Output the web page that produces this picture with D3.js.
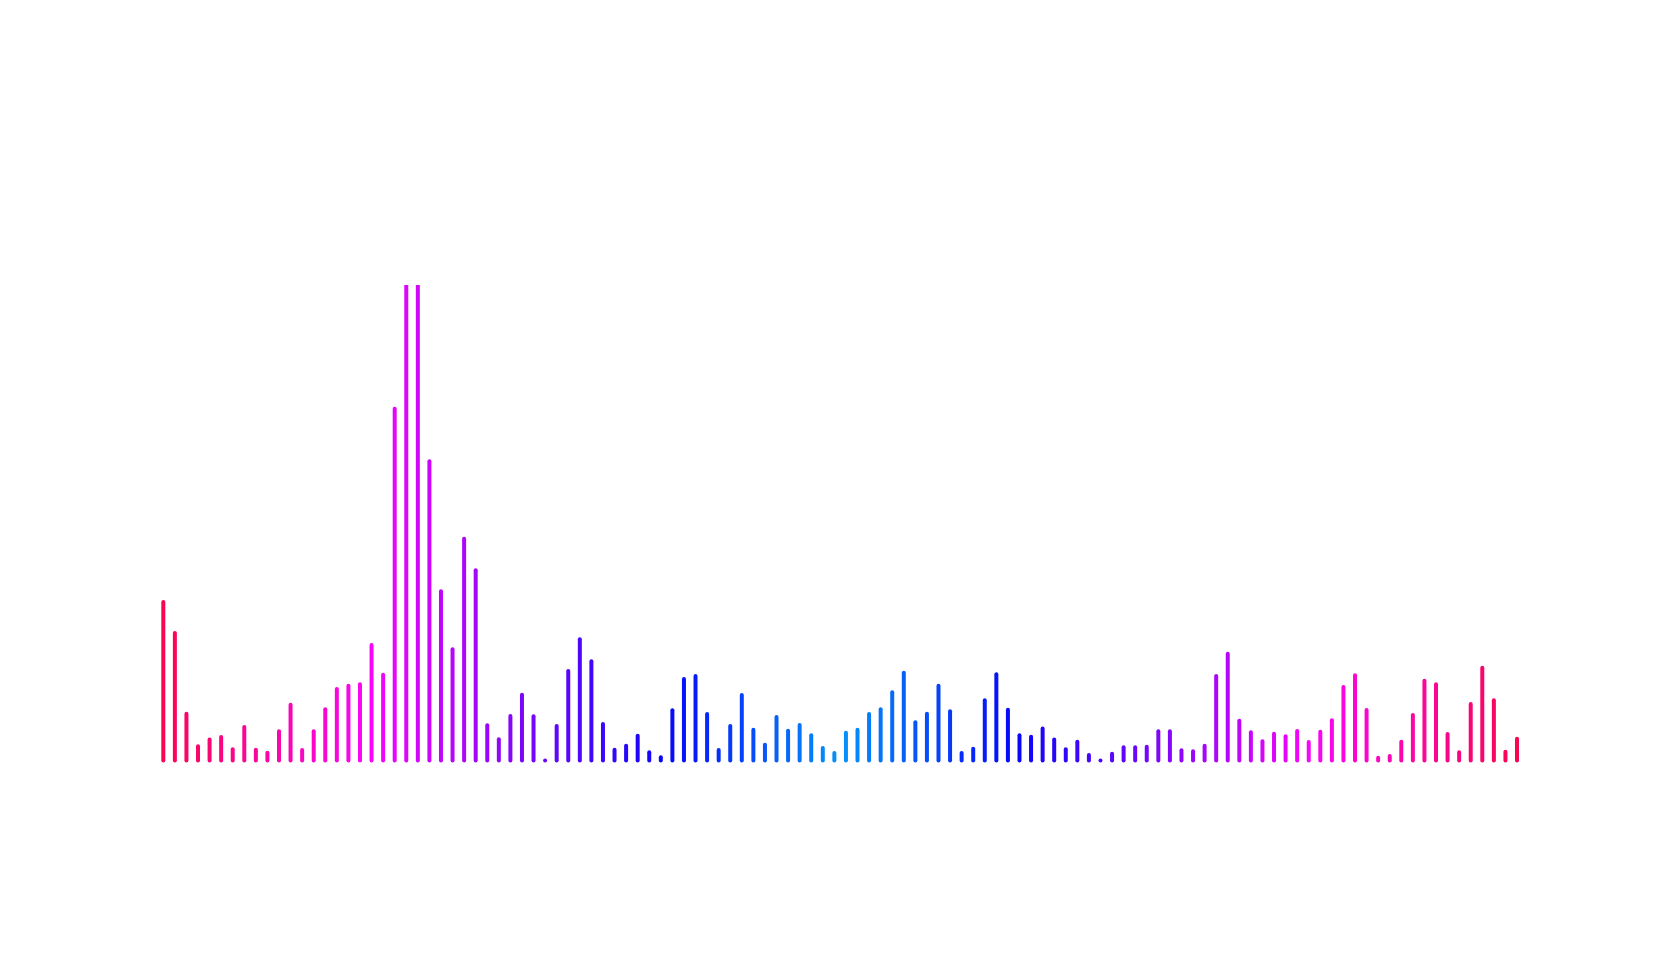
<!DOCTYPE html>
<html>
<head>
<meta charset="utf-8">
<script src="https://cdn.jsdelivr.net/npm/d3@7"></script>
<style>
  body { margin: 0; background: #fff; }
</style>
</head>
<body>
<svg width="1680" height="980"></svg>
<script>
// frequency levels, one per bar (0 - 255)
const levels = [
  85, 68.4, 25.1, 7.6, 11.2, 12.6, 6, 18, 5.8, 4.2,
  15.7, 29.9, 5.6, 15.7, 27.5, 38.3, 40.1, 40.9, 61.9, 46,
  188.7, 255, 255, 160.5, 90.7, 59.6, 118.9, 102, 18.9, 11.4,
  23.9, 35.3, 23.7, 0, 18.5, 48, 65, 53.2, 19.6, 5.8,
  7.9, 13.3, 4.4, 1.7, 26.9, 43.7, 45.3, 24.9, 5.6, 18.5,
  35.1, 16.5, 8.5, 23.3, 16, 19, 13.5, 6.7, 4, 14.9,
  16.5, 24.9, 27.5, 36.6, 47.1, 20.5, 25.1, 40.1, 26.4, 4,
  6.3, 32.3, 46.2, 27.2, 13.5, 12.8, 17.1, 11.2, 6, 10.1,
  2.9, 0, 3.6, 7.1, 7.1, 7.4, 15.7, 15.7, 5.5, 4.9,
  7.9, 45.3, 57.3, 21.3, 15.1, 10.3, 14.4, 13, 15.8, 9.9,
  15.4, 21.6, 39.4, 45.7, 27.1, 1.5, 2.4, 10.1, 24.4, 42.8,
  40.9, 14.2, 4.4, 30.3, 49.8, 32.3, 4.7, 11.7
];
const bins = levels.map((d, i) => i);

const svg = d3.select('svg');
const svgW = +svg.attr('width');
const svgH = +svg.attr('height');

const margin = { top: 285, left: 163.3, bottom: 219.5, right: 163 };
const innerHeight = svgH - margin.top - margin.bottom;

const xScale = d3.scalePoint()
  .domain(bins)
  .range([margin.left, svgW - margin.right]);

const yScale = d3.scaleLinear()
  .domain([0, 255])
  .range([svgH - margin.bottom, margin.top]);

// hue swings from crimson to azure at the middle and back
const mid = (levels.length - 1) / 2;
const hue = d3.scaleLinear()
  .domain([0, mid, levels.length - 1])
  .range([342, 205, 342]);
const colour = i => d3.hsl(hue(i), 0.95, 0.5).formatHex();

// bars higher than the frame get cut flat at the top
svg.append('clipPath').attr('id', 'frame')
  .append('rect')
  .attr('x', 0)
  .attr('y', margin.top)
  .attr('width', svgW)
  .attr('height', svgH - margin.top);

svg.append('g')
  .attr('clip-path', 'url(#frame)')
  .selectAll('line')
  .data(levels)
  .enter().append('line')
  .attr('x1', (d, i) => xScale(i))
  .attr('x2', (d, i) => xScale(i))
  .attr('y1', yScale(0))
  .attr('y2', d => yScale(d))
  .attr('stroke', (d, i) => colour(i))
  .attr('stroke-width', 4)
  .attr('stroke-linecap', 'round');
</script>
</body>
</html>
